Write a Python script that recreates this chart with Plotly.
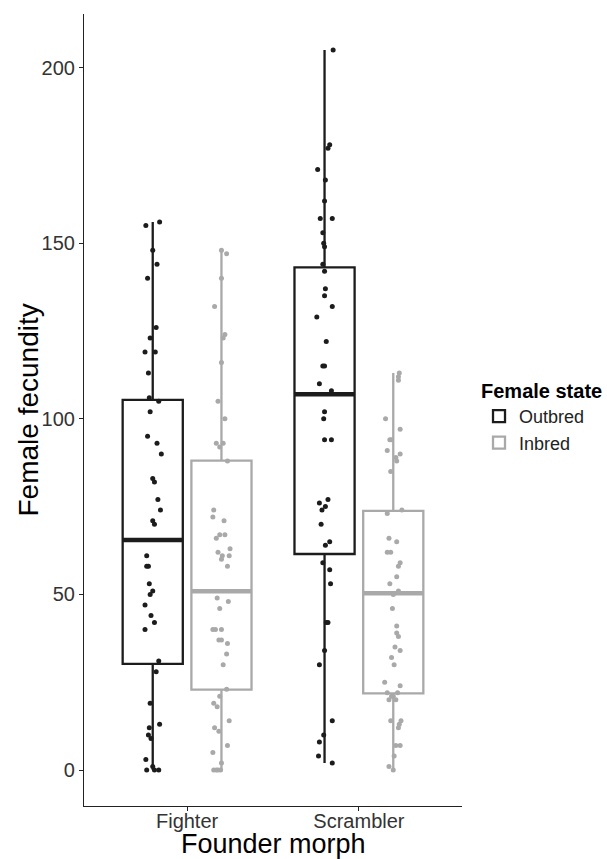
import plotly.graph_objects as go

# ---- data ----
morphs = ["Fighter", "Scrambler"]
states = ["Outbred", "Inbred"]

fighter_outbred = [155, 156, 148, 144, 140, 126, 123, 119, 119, 113, 106, 105, 102, 95, 93, 90,
                   83, 82, 77, 74, 71, 70, 61, 58, 58, 53, 51, 50, 47, 44, 42, 40, 31, 28, 19,
                   13, 12, 10, 9, 3, 0, 1, 0, 0]
fighter_outbred_jit = [-0.04, 0.04, 0.0, 0.025, -0.03, 0.02, -0.015, -0.045, 0.015, -0.025, -0.02,
                       0.035, -0.015, -0.03, 0.025, 0.05, 0.0, 0.01, 0.03, 0.045, 0.0, 0.01, -0.035,
                       -0.035, -0.025, -0.02, 0.0, -0.015, -0.045, -0.01, 0.01, -0.045, 0.035, 0.02,
                       -0.015, 0.04, -0.02, -0.025, -0.01, -0.04, -0.035, 0.0, 0.01, 0.035]

fighter_inbred = [148, 147, 140, 132, 124, 123, 116, 105, 100, 93, 93, 92, 88, 74, 72, 71, 67, 67,
                  66, 63, 62, 61, 61, 60, 58, 49, 48, 46, 40, 40, 40, 37, 37, 36, 33, 30, 23, 21,
                  19, 18, 14, 12, 11, 7, 5, 2, 0, 0, 0, 0]
fighter_inbred_jit = [0.0, 0.03, 0.0, -0.04, 0.02, 0.01, 0.0, -0.02, 0.02, -0.03, 0.01, -0.01, 0.035,
                      -0.045, -0.05, 0.015, -0.01, 0.02, -0.03, 0.05, -0.02, 0.005, 0.045, 0.0, 0.035,
                      -0.025, 0.04, -0.01, -0.05, -0.035, 0.0, -0.015, 0.0, 0.035, 0.03, 0.01, 0.03,
                      -0.01, -0.045, -0.025, 0.045, -0.04, -0.015, 0.035, -0.05, 0.0, -0.045, -0.03,
                      -0.02, -0.005]

scrambler_outbred = [205, 178, 177, 171, 168, 162, 157, 157, 153, 150, 149, 144, 142, 137, 135, 132,
                     129, 122, 115, 115, 110, 108, 102, 100, 94, 94, 77, 76, 75, 74, 70, 65, 64, 59,
                     57, 53, 42, 42, 34, 30, 14, 10, 8, 4, 2]
scrambler_outbred_jit = [0.05, 0.03, 0.02, -0.04, 0.005, 0.0, -0.025, 0.045, -0.01, -0.005, 0.0, -0.01,
                         0.0, 0.005, 0.0, 0.045, -0.045, 0.01, -0.01, 0.0, -0.03, 0.04, 0.0, -0.005,
                         0.0, 0.04, 0.02, -0.03, 0.005, -0.015, -0.02, 0.03, 0.005, -0.01, 0.03, 0.035,
                         0.01, 0.02, 0.0, -0.03, 0.045, -0.005, -0.03, -0.035, 0.045]

scrambler_inbred = [113, 112, 111, 100, 97, 94, 94, 91, 90, 89, 88, 85, 74, 73, 66, 65, 62, 62, 59,
                    58, 55, 53, 51, 50, 46, 41, 39, 38, 35, 34, 32, 30, 25, 24, 22, 22, 21, 21, 20,
                    20, 14, 14, 13, 12, 7, 7, 4, 1, 0]
scrambler_inbred_jit = [0.035, 0.03, 0.03, -0.045, 0.04, -0.02, -0.01, -0.035, 0.04, 0.015, 0.02,
                        -0.015, 0.05, -0.035, -0.025, 0.02, -0.035, -0.015, 0.04, 0.03, 0.02, -0.02,
                        0.03, 0.0, -0.005, 0.02, 0.02, 0.03, 0.01, 0.04, -0.01, 0.005, -0.05, 0.04,
                        -0.035, 0.025, -0.01, 0.0, -0.025, 0.015, -0.015, 0.045, 0.035, 0.03, 0.015,
                        0.04, 0.005, -0.025, 0.0]

# box statistics (Fighter, Scrambler) per state
outbred_lower = [0, 2]
outbred_q1 = [30.2, 61.5]
outbred_median = [65.5, 107]
outbred_q3 = [105.4, 143.1]
outbred_upper = [156, 205]

inbred_lower = [0, 0]
inbred_q1 = [22.9, 21.8]
inbred_median = [50.9, 50.3]
inbred_q3 = [88.1, 73.8]
inbred_upper = [148, 113]

y_ticks = [0, 50, 100, 150, 200]

# ---- styling ----
FONT = "Liberation Sans, Arial, Helvetica, sans-serif"
colors = {"Outbred": "#1c1c1c", "Inbred": "#a9a9a9"}
dodge = 0.2
box_w = 0.35
morph_pos = [1, 2]

fig = go.Figure()

stats = {
    "Outbred": (outbred_lower, outbred_q1, outbred_median, outbred_q3, outbred_upper, -dodge),
    "Inbred": (inbred_lower, inbred_q1, inbred_median, inbred_q3, inbred_upper, dodge),
}

for st in states:
    lo, q1, med, q3, hi, off = stats[st]
    xs = [p + off for p in morph_pos]
    fig.add_trace(go.Box(
        x=xs, q1=q1, median=med, q3=q3, lowerfence=lo, upperfence=hi,
        width=box_w, whiskerwidth=0, name=st, legendgroup=st,
        line=dict(color=colors[st], width=2.3), fillcolor="white",
        boxpoints=False, hoverinfo="skip", showlegend=True,
    ))
    # thicker median segment
    mx, my = [], []
    for x0, m in zip(xs, med):
        mx += [x0 - box_w / 2, x0 + box_w / 2, None]
        my += [m, m, None]
    fig.add_trace(go.Scatter(x=mx, y=my, mode="lines", line=dict(color=colors[st], width=4.5),
                             showlegend=False, legendgroup=st, hoverinfo="skip"))

points = [
    ("Outbred", 0, fighter_outbred, fighter_outbred_jit),
    ("Inbred", 0, fighter_inbred, fighter_inbred_jit),
    ("Outbred", 1, scrambler_outbred, scrambler_outbred_jit),
    ("Inbred", 1, scrambler_inbred, scrambler_inbred_jit),
]
for st, mi, vals, jit in points:
    off = -dodge if st == "Outbred" else dodge
    fig.add_trace(go.Scatter(
        x=[morph_pos[mi] + off + j for j in jit], y=vals, mode="markers",
        marker=dict(color=colors[st], size=5, line=dict(width=0)),
        showlegend=False, legendgroup=st, hoverinfo="skip",
    ))

axis_common = dict(showline=True, linecolor="#222222", linewidth=1.2, ticks="outside",
                   ticklen=4, tickcolor="#222222", tickwidth=1.2, showgrid=False, zeroline=False,
                   automargin=False,
                   tickfont=dict(family=FONT, size=20, color="#333333"))

fig.update_layout(
    width=607, height=859,
    margin=dict(l=84, r=145, t=14, b=53, autoexpand=False),
    paper_bgcolor="white", plot_bgcolor="white",
    font=dict(family=FONT),
    xaxis=dict(range=[0.4, 2.6], tickvals=morph_pos, ticktext=morphs, ticklabelstandoff=-7,
               **axis_common),
    yaxis=dict(range=[-10.25, 215.25], tickvals=y_ticks, ticktext=[str(t) for t in y_ticks],
               **axis_common),
    legend=dict(title=dict(text="<b>Female state</b>", font=dict(family=FONT, size=20, color="black")),
                font=dict(family=FONT, size=18, color="#222222"),
                x=1.045, xanchor="left", y=0.548, yanchor="top",
                bgcolor="rgba(0,0,0,0)", tracegroupgap=0, itemwidth=30),
    showlegend=True,
    annotations=[
        dict(text="Founder morph", xref="paper", yref="paper", x=0.5, y=0, xanchor="center",
             yanchor="middle", yshift=-37.5, showarrow=False,
             font=dict(family=FONT, size=27, color="black")),
        dict(text="Female fecundity", xref="paper", yref="paper", x=0, y=0.5, xanchor="center",
             yanchor="middle", xshift=-56.5, textangle=-90, showarrow=False,
             font=dict(family=FONT, size=28, color="black")),
    ],
)

fig.write_html("out.html", config={"displayModeBar": False},
               post_script="document.body.style.margin='0';document.body.style.overflow='hidden';")
